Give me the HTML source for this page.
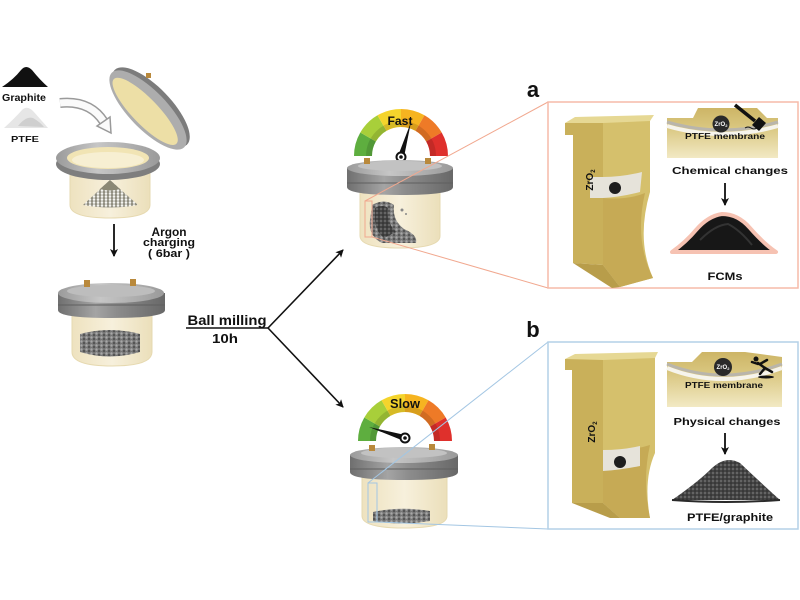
<!DOCTYPE html>
<html><head><meta charset="utf-8"><style>
html,body{margin:0;padding:0;background:#fff;width:800px;height:600px;overflow:hidden}
svg{display:block}
text{font-family:"Liberation Sans",Arial,sans-serif;font-weight:bold;fill:#111}
</style></head><body>
<svg width="800" height="600" viewBox="0 0 800 600" xmlns="http://www.w3.org/2000/svg">
<defs>
<pattern id="grain" width="5" height="4" patternUnits="userSpaceOnUse"><rect width="5" height="4" fill="#767676"/><circle cx="1.5" cy="1.5" r="1.2" fill="#a8a8a8"/><circle cx="4" cy="3" r="1" fill="#4a4a4a"/></pattern>
<pattern id="balls" width="4" height="3" patternUnits="userSpaceOnUse"><rect width="4" height="3" fill="#8c8a7c"/><circle cx="2" cy="1.5" r="1.3" fill="#f4f4f0"/></pattern>
<pattern id="dgrain" width="4" height="4" patternUnits="userSpaceOnUse"><rect width="4" height="4" fill="#444"/><circle cx="1" cy="1" r="1" fill="#6e6e6e"/><circle cx="3" cy="3" r="0.8" fill="#2a2a2a"/></pattern>
<linearGradient id="lid" x1="0" x2="1" y1="0" y2="0"><stop offset="0" stop-color="#6f6f6f"/><stop offset="0.35" stop-color="#a4a4a4"/><stop offset="0.55" stop-color="#8c8c8c"/><stop offset="1" stop-color="#686868"/></linearGradient>
<linearGradient id="lidtop" x1="0" x2="1"><stop offset="0" stop-color="#9a9a9a"/><stop offset="0.4" stop-color="#c6c6c6"/><stop offset="1" stop-color="#9a9a9a"/></linearGradient>
<linearGradient id="body" x1="0" x2="1"><stop offset="0" stop-color="#eee2bf"/><stop offset="0.5" stop-color="#f7f0dc"/><stop offset="1" stop-color="#ebdfba"/></linearGradient>
<linearGradient id="inset" x1="0" x2="0" y1="0" y2="1"><stop offset="0" stop-color="#cdb566"/><stop offset="0.35" stop-color="#d8c57d"/><stop offset="1" stop-color="#f2e9c4"/></linearGradient>
<marker id="ah" markerWidth="8" markerHeight="8" refX="7" refY="4" orient="auto" markerUnits="userSpaceOnUse"><path d="M0,0 L8,4 L0,8 L2,4 Z" fill="#111"/></marker>
</defs>

<!-- Graphite / PTFE -->
<path d="M2 87 Q14 79 21 70 Q26 64 32 70 Q40 80 48 87 Z" fill="#111"/>
<text x="24" y="101" font-size="10" text-anchor="middle" textLength="44" lengthAdjust="spacingAndGlyphs">Graphite</text>
<path d="M4 128 Q15 118 22 110 Q27 105 33 111 Q42 121 48 128 Z" fill="#e6e6e6"/>
<path d="M18 126 Q26 116 33 118 Q40 122 44 127 Z" fill="#cfcfcf"/>
<text x="25" y="142" font-size="8.5" text-anchor="middle" textLength="28" lengthAdjust="spacingAndGlyphs">PTFE</text>

<!-- curved arrow -->
<path d="M60 103 Q90 100 104 122" fill="none" stroke="#9a9a9a" stroke-width="10"/>
<path d="M60 103 Q90 100 104 122" fill="none" stroke="#fafafa" stroke-width="7"/>
<polygon points="111,133 110,117 97,126" fill="#fafafa" stroke="#9a9a9a" stroke-width="1.5"/>

<!-- open lid -->
<g transform="translate(148,110) rotate(46)">
<ellipse cx="0" cy="-4" rx="52" ry="20" fill="#7c7c7c"/>
<ellipse cx="0" cy="0" rx="52" ry="19" fill="#adadad"/>
<ellipse cx="-1" cy="3" rx="45" ry="13" fill="#eddfa6"/>
</g>
<rect x="146" y="73" width="5" height="5" fill="#b9893c"/>

<!-- open jar -->
<path d="M70 168 L70 205 Q70 218 110 218 Q150 218 150 205 L150 168 Z" fill="url(#body)" stroke="#e6d9b0"/>
<path d="M83 205 L110 180 L138 205 Q110 210 83 205 Z" fill="url(#balls)"/>
<path d="M100 189 L110 180 L120 189 Q110 192 100 189 Z" fill="#8b8875"/>
<ellipse cx="108" cy="164" rx="52" ry="16" fill="#7e7e7e"/>
<ellipse cx="108" cy="158" rx="52" ry="16" fill="url(#lidtop)"/>
<ellipse cx="108" cy="158" rx="41" ry="11" fill="#f1e4b4"/>
<ellipse cx="108" cy="160" rx="36" ry="8" fill="#f7efd2"/>

<!-- down arrow -->
<line x1="114" y1="224" x2="114" y2="256" stroke="#111" stroke-width="1.8" marker-end="url(#ah)"/>
<text x="169" y="236" font-size="11.5" text-anchor="middle" textLength="35" lengthAdjust="spacingAndGlyphs">Argon</text>
<text x="169" y="246" font-size="11" text-anchor="middle" textLength="52" lengthAdjust="spacingAndGlyphs">charging</text>
<text x="169" y="257" font-size="11" text-anchor="middle" textLength="42" lengthAdjust="spacingAndGlyphs">( 6bar )</text>

<!-- closed jar -->
<path d="M72 312 L72 352 Q72 366 112 366 Q152 366 152 352 L152 312 Z" fill="url(#body)" stroke="#e6d9b0"/>
<path d="M80 334 Q110 326 140 334 L140 352 Q110 361 80 352 Z" fill="url(#grain)"/>
<path d="M58 293 L58 310 Q58 318 111 318 Q165 318 165 310 L165 293 Z" fill="url(#lid)"/>
<line x1="58" y1="305" x2="165" y2="305" stroke="#5f5f5f" stroke-width="1"/>
<ellipse cx="111" cy="293" rx="53" ry="10" fill="url(#lidtop)"/>
<ellipse cx="111" cy="291" rx="44" ry="6" fill="#bdbdbd"/>
<rect x="84" y="280" width="6" height="7" fill="#b9893c"/>
<rect x="130" y="279" width="6" height="7" fill="#b9893c"/>

<!-- ball milling -->
<text x="227" y="325" font-size="14" text-anchor="middle" textLength="79" lengthAdjust="spacingAndGlyphs">Ball milling</text>
<line x1="186" y1="328" x2="268" y2="328" stroke="#111" stroke-width="1.5"/>
<text x="225" y="343" font-size="13" text-anchor="middle" textLength="26" lengthAdjust="spacingAndGlyphs">10h</text>
<line x1="268" y1="328" x2="343" y2="250" stroke="#111" stroke-width="1.6" marker-end="url(#ah)"/>
<line x1="268" y1="328" x2="343" y2="407" stroke="#111" stroke-width="1.6" marker-end="url(#ah)"/>

<!-- FAST gauge -->
<g fill="none" stroke-width="18">
<path d="M363 156 A38 38 0 0 1 368.1 137" stroke="#5eae3f"/>
<path d="M368.1 137 A38 38 0 0 1 382 123.1" stroke="#a8cf3a"/>
<path d="M382 123.1 A38 38 0 0 1 401 118" stroke="#f4d42c"/>
<path d="M401 118 A38 38 0 0 1 420 123.1" stroke="#f6b420"/>
<path d="M420 123.1 A38 38 0 0 1 433.9 137" stroke="#ee7a27"/>
<path d="M433.9 137 A38 38 0 0 1 439 156" stroke="#df302c"/>
<path d="M369 156 A32 32 0 0 1 433 156" stroke="rgba(0,0,0,0.12)" stroke-width="6"/>
</g>
<text x="400" y="125" font-size="12" text-anchor="middle" textLength="25" lengthAdjust="spacingAndGlyphs">Fast</text>
<polygon points="398,156 404,157 411,122" fill="#111"/>
<circle cx="401" cy="157" r="4.5" fill="#fff" stroke="#111" stroke-width="2"/>
<circle cx="401" cy="157" r="1.8" fill="#111"/>

<!-- FAST jar -->
<path d="M360 190 L360 236 Q360 248 400 248 Q440 248 440 236 L440 190 Z" fill="url(#body)" stroke="#e6d9b0"/>
<path d="M372 205 Q384 198 394 205 Q392 220 404 229 Q418 235 416 243 L382 243 Q368 236 370 220 Z" fill="url(#grain)"/>
<path d="M375 208 Q383 204 388 208 Q386 222 396 232 L384 238 Q374 230 375 215 Z" fill="url(#dgrain)"/>
<circle cx="402" cy="210" r="1.5" fill="#888"/><circle cx="406" cy="214" r="1" fill="#888"/>
<path d="M347 168 L347 187 Q347 195 400 195 Q453 195 453 187 L453 168 Z" fill="url(#lid)"/>
<line x1="347" y1="183" x2="453" y2="183" stroke="#5f5f5f" stroke-width="1"/>
<ellipse cx="400" cy="168" rx="53" ry="8" fill="url(#lidtop)"/>
<ellipse cx="400" cy="166" rx="42" ry="5" fill="#c2c2c2"/>
<rect x="364" y="158" width="6" height="6" fill="#b9893c"/>
<rect x="425" y="158" width="6" height="6" fill="#b9893c"/>

<!-- SLOW gauge -->
<g fill="none" stroke-width="18">
<path d="M367 441 A38 38 0 0 1 372.1 422" stroke="#5eae3f"/>
<path d="M372.1 422 A38 38 0 0 1 386 408.1" stroke="#a8cf3a"/>
<path d="M386 408.1 A38 38 0 0 1 405 403" stroke="#f4d42c"/>
<path d="M405 403 A38 38 0 0 1 424 408.1" stroke="#f6b420"/>
<path d="M424 408.1 A38 38 0 0 1 437.9 422" stroke="#ee7a27"/>
<path d="M437.9 422 A38 38 0 0 1 443 441" stroke="#df302c"/>
<path d="M373 441 A32 32 0 0 1 437 441" stroke="rgba(0,0,0,0.12)" stroke-width="6"/>
</g>
<text x="405" y="408" font-size="12.5" text-anchor="middle" textLength="30" lengthAdjust="spacingAndGlyphs">Slow</text>
<polygon points="405,435 404,441 369,427" fill="#111"/>
<circle cx="405" cy="438" r="4.5" fill="#fff" stroke="#111" stroke-width="2"/>
<circle cx="405" cy="438" r="1.8" fill="#111"/>

<!-- SLOW jar -->
<path d="M362 475 L362 516 Q362 528 404 528 Q447 528 447 516 L447 475 Z" fill="url(#body)" stroke="#e6d9b0"/>
<path d="M373 512 Q400 506 430 511 L430 521 Q400 526 373 521 Z" fill="url(#grain)"/>
<path d="M350 455 L350 472 Q350 480 404 480 Q458 480 458 472 L458 455 Z" fill="url(#lid)"/>
<line x1="350" y1="469" x2="458" y2="469" stroke="#5f5f5f" stroke-width="1"/>
<ellipse cx="404" cy="455" rx="54" ry="8" fill="url(#lidtop)"/>
<ellipse cx="404" cy="453" rx="43" ry="5" fill="#c2c2c2"/>
<rect x="369" y="445" width="6" height="6" fill="#b9893c"/>
<rect x="429" y="444" width="6" height="6" fill="#b9893c"/>

<!-- connecting lines -->
<g fill="none" stroke="#f1a88f" stroke-width="1">
<line x1="548" y1="102" x2="365" y2="201"/>
<line x1="548" y1="288" x2="372" y2="237"/>
<rect x="365" y="201" width="7" height="36"/>
</g>
<g fill="none" stroke="#a3c6e3" stroke-width="1">
<line x1="548" y1="342" x2="368" y2="483"/>
<line x1="548" y1="529" x2="377" y2="522"/>
<rect x="368" y="483" width="9" height="39"/>
</g>

<!-- labels a/b -->
<text x="533" y="97" font-size="22" text-anchor="middle">a</text>
<text x="533" y="337" font-size="22" text-anchor="middle">b</text>

<!-- BOX a -->
<rect x="548" y="102" width="250" height="186" fill="none" stroke="#f5baa9" stroke-width="1.5"/>
<path d="M603 122 L650 120 L650 192 Q636 240 653 278 L620 287 L603 265 Z" fill="#d5c06c"/>
<path d="M603 198 Q628 200 645 193 Q634 240 653 278 L620 287 L603 265 Z" fill="#c6aa55"/>
<path d="M565 123 L603 123 L603 265 L573 263 L573 135 L565 135 Z" fill="#c9b05a"/>
<path d="M573 263 L603 265 L620 287 L612 288 Z" fill="#b89d4a"/>
<path d="M565 123 L575 117 L654 115 L650 121 L603 123 Z" fill="#e6d894"/>
<path d="M590 177 L603 177 Q622 177 642 172 L640 192 Q621 197 603 198 L590 198 Z" fill="#e6e3da"/>
<circle cx="615" cy="188" r="6" fill="#1e1e1e"/>
<text transform="translate(593,180) rotate(-90)" font-size="10" text-anchor="middle">ZrO<tspan font-size="6" dy="2">2</tspan></text>

<path d="M667 118 L693 118 L698 108 L757 108 L767 118 L778 118 L778 158 L667 158 Z" fill="url(#inset)"/>
<path d="M667 122 Q722 138 778 122" fill="none" stroke="#b9b5ab" stroke-width="3"/>
<path d="M667 126 Q722 142 778 126" fill="none" stroke="#f6f4ec" stroke-width="4"/>
<circle cx="721" cy="124" r="8.5" fill="#2a2a2a"/>
<text x="721" y="126" font-size="6" text-anchor="middle" style="fill:#fff">ZrO<tspan font-size="4" dy="1">2</tspan></text>
<line x1="735" y1="105" x2="755" y2="121" stroke="#111" stroke-width="3.5"/>
<polygon points="752,125 759,117 766,123 759,131" fill="#111"/>
<path d="M745 128 q3 -2 6 0 q3 2 6 0" fill="none" stroke="#111" stroke-width="1"/>
<text x="725" y="139" font-size="8" text-anchor="middle" textLength="80" lengthAdjust="spacingAndGlyphs">PTFE membrane</text>
<text x="730" y="174" font-size="10.5" text-anchor="middle" textLength="116" lengthAdjust="spacingAndGlyphs">Chemical changes</text>
<line x1="725" y1="183" x2="725" y2="205" stroke="#111" stroke-width="1.8" marker-end="url(#ah)"/>
<path d="M672 252 Q686 242 696 230 Q708 216 722 214 Q738 214 750 228 Q764 244 776 252 Z" fill="#171717" stroke="#f6c2b2" stroke-width="4" stroke-linejoin="round"/>
<path d="M700 240 Q715 225 728 224 Q740 230 752 245" fill="none" stroke="#333" stroke-width="2"/>
<text x="725" y="280" font-size="11" text-anchor="middle" textLength="35" lengthAdjust="spacingAndGlyphs">FCMs</text>

<!-- BOX b -->
<rect x="548" y="342" width="250" height="187" fill="none" stroke="#b4d0e7" stroke-width="1.5"/>
<path d="M603 359 L655 357 L655 453 Q643 480 650 518 L620 518 L603 503 Z" fill="#d5c06c"/>
<path d="M603 450 Q628 452 650 445 Q642 480 650 518 L620 518 L603 503 Z" fill="#c6aa55"/>
<path d="M565 359 L603 359 L603 503 L572 503 L572 370 L565 370 Z" fill="#c9b05a"/>
<path d="M572 503 L603 503 L620 518 L610 518 Z" fill="#b89d4a"/>
<path d="M565 359 L575 354 L658 352 L655 358 L603 360 Z" fill="#e6d894"/>
<path d="M603 450 Q622 450 640 446 L640 466 Q621 470 603 471 Z" fill="#e6e3da"/>
<circle cx="620" cy="462" r="6" fill="#1e1e1e"/>
<text transform="translate(595,432) rotate(-90)" font-size="10" text-anchor="middle">ZrO<tspan font-size="6" dy="2">2</tspan></text>

<path d="M667 362 L692 362 L702 352 L745 352 L782 357 L782 407 L667 407 Z" fill="url(#inset)"/>
<path d="M667 364 Q722 386 782 364" fill="none" stroke="#b9b5ab" stroke-width="3"/>
<path d="M667 368 Q722 390 782 368" fill="none" stroke="#f6f4ec" stroke-width="4"/>
<circle cx="723" cy="367" r="9" fill="#2a2a2a"/>
<text x="723" y="369" font-size="6" text-anchor="middle" style="fill:#fff">ZrO<tspan font-size="4" dy="1">2</tspan></text>
<g stroke="#111" stroke-width="2.5" fill="none" stroke-linecap="round">
<circle cx="756" cy="359" r="2.5" fill="#111" stroke="none"/>
<line x1="758" y1="363" x2="765" y2="368"/>
<line x1="758" y1="364" x2="752" y2="362"/>
<line x1="760" y1="364" x2="767" y2="360"/>
<line x1="765" y1="368" x2="760" y2="374"/>
<line x1="765" y1="368" x2="772" y2="372"/>
</g>
<ellipse cx="766" cy="377" rx="8" ry="1.5" fill="#111"/>
<text x="724" y="388" font-size="8" text-anchor="middle" textLength="78" lengthAdjust="spacingAndGlyphs">PTFE membrane</text>
<text x="727" y="425" font-size="10.5" text-anchor="middle" textLength="107" lengthAdjust="spacingAndGlyphs">Physical changes</text>
<line x1="725" y1="433" x2="725" y2="454" stroke="#111" stroke-width="1.8" marker-end="url(#ah)"/>
<path d="M672 500 Q698 482 712 468 Q726 455 740 463 Q760 482 780 500 Z" fill="url(#dgrain)"/>
<path d="M672 500 Q726 504 780 500" fill="none" stroke="#2a2a2a" stroke-width="2"/>
<text x="730" y="521" font-size="11" text-anchor="middle" textLength="86" lengthAdjust="spacingAndGlyphs">PTFE/graphite</text>
</svg>
</body></html>
